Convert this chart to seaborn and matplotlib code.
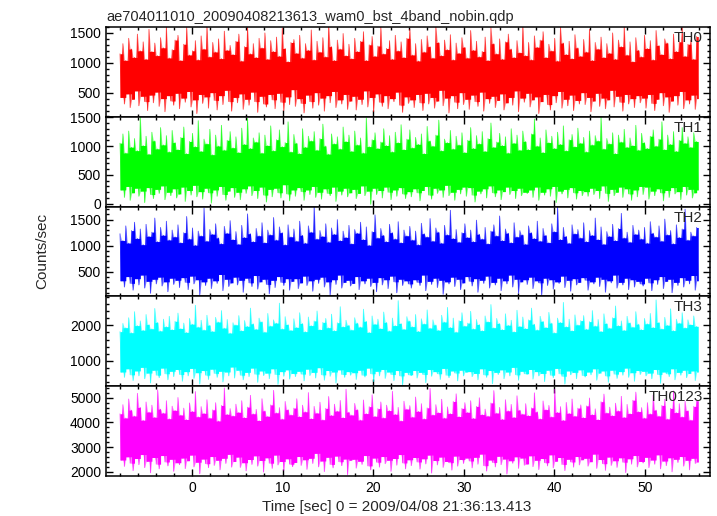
import numpy as np
import matplotlib
matplotlib.use("Agg")
import matplotlib.pyplot as plt
import matplotlib.ticker as mticker
import seaborn as sns

# light curve, drawn as per-bin min/max count rate (bin = 0.32 s)
t_start = -7.95
bin_sec = 0.32

th0_hi = [1150, 1320, 1040, 1410, 1230, 1090, 1480, 1200, 1350, 1060, 1560, 1190, 1330, 1120, 1420, 1250, 1610, 1080, 1220, 1380,
          1460, 1040, 1310, 1590, 1130, 1200, 1370, 1050, 1450, 1230, 1620, 1100, 1340, 1180, 1400, 1070, 1530, 1210, 1290, 1140,
          1360, 1480, 1030, 1270, 1600, 1150, 1320, 1090, 1410, 1250, 1500, 1060, 1370, 1190, 1430, 1110, 1580, 1240, 1020, 1340,
          1390, 1160, 1460, 1080, 1320, 1210, 1550, 1050, 1360, 1180, 1420, 1100, 1630, 1270, 1040, 1380, 1230, 1490, 1120, 1310,
          1070, 1410, 1190, 1360, 1520, 1040, 1300, 1440, 1110, 1280, 1600, 1150, 1240, 1370, 1060, 1460, 1200, 1350, 1090, 1410,
          1560, 1130, 1320, 1030, 1390, 1180, 1450, 1270, 1080, 1610, 1340, 1120, 1380, 1220, 1470, 1050, 1330, 1160, 1420, 1260,
          1080, 1540, 1210, 1360, 1100, 1190, 1430, 1040, 1590, 1320, 1150, 1400, 1060, 1350, 1480, 1230, 1090, 1370, 1170, 1620,
          1120, 1340, 1050, 1450, 1260, 1380, 1520, 1090, 1310, 1200, 1410, 1030, 1600, 1330, 1140, 1360, 1070, 1470, 1250, 1110,
          1390, 1180, 1560, 1040, 1340, 1230, 1430, 1090, 1320, 1160, 1500, 1060, 1380, 1270, 1610, 1130, 1350, 1020, 1420, 1210,
          1100, 1460, 1240, 1370, 1050, 1540, 1290, 1140, 1400, 1330, 1070, 1480, 1190, 1350, 1590, 1110, 1310, 1380, 1060, 1440]
th0_lo = [420, 310, 480, 250, 390, 530, 280, 440, 350, 200, 460, 330, 510, 270, 400, 180, 450, 360, 290, 490,
          230, 410, 340, 520, 260, 380, 150, 470, 320, 430, 240, 500, 370, 210, 450, 300, 540, 350, 190, 420,
          330, 480, 220, 390, 290, 510, 350, 170, 440, 310, 260, 470, 380, 230, 490, 340, 200, 430, 300, 550,
          270, 400, 320, 160, 460, 350, 240, 500, 290, 410, 190, 450, 330, 520, 250, 380, 310, 470, 220, 360,
          440, 210, 390, 300, 530, 260, 420, 180, 480, 340, 270, 450, 230, 400, 350, 510, 290, 170, 430, 320,
          380, 250, 470, 330, 200, 490, 310, 420, 240, 360, 540, 280, 410, 160, 450, 340, 230, 500, 300, 390,
          220, 460, 350, 270, 510, 190, 400, 320, 440, 250, 370, 480, 210, 330, 420, 290, 530, 180, 410, 340,
          490, 260, 380, 430, 150, 350, 470, 300, 210, 450, 330, 520, 240, 390, 280, 460, 200, 370, 310, 500,
          300, 420, 180, 360, 490, 270, 410, 230, 380, 540, 260, 440, 340, 190, 470, 310, 400, 250, 450, 330,
          410, 240, 470, 320, 200, 390, 500, 280, 430, 170, 360, 450, 290, 520, 230, 380, 310, 460, 220, 400]

th1_hi = [1050, 1210, 880, 1260, 980, 1130, 920, 1500, 1010, 1170, 860, 1240, 1090, 950, 1320, 1020, 1180, 900, 1270, 1060,
          940, 1150, 1330, 870, 1080, 1220, 990, 1440, 910, 1120, 1040, 1290, 850, 1190, 1000, 1360, 930, 1100, 1250, 970,
          1160, 890, 1310, 1030, 1480, 960, 1140, 1070, 1230, 880, 1190, 1010, 1350, 920, 1110, 1280, 990, 1060, 1420, 900,
          1200, 1050, 870, 1300, 980, 1170, 1090, 1250, 930, 1130, 1380, 1000, 860, 1210, 1040, 1160, 950, 1330, 1080, 1190,
          910, 1260, 1020, 1140, 880, 1490, 990, 1110, 1230, 960, 1070, 1300, 1010, 1180, 900, 1240, 1060, 1370, 940, 1120,
          1280, 970, 1150, 1030, 1210, 870, 1340, 1090, 1000, 1190, 1450, 920, 1120, 1060, 1270, 950, 1170, 1020, 1230, 890,
          1100, 1320, 960, 1180, 1040, 1250, 910, 1130, 1400, 980, 1070, 1220, 1010, 1160, 880, 1300, 1050, 1190, 930, 1260,
          1080, 940, 1210, 1470, 1000, 1140, 890, 1280, 1060, 1170, 960, 1240, 1030, 1350, 920, 1110, 1200, 990, 1310, 1050,
          1150, 900, 1260, 1020, 1180, 1090, 1500, 950, 1130, 1040, 1230, 870, 1190, 1070, 1290, 980, 1140, 1010, 1360, 930,
          1220, 1060, 960, 1170, 1280, 1000, 1120, 1420, 940, 1190, 1030, 1250, 910, 1100, 1320, 1050, 1160, 980, 1230, 1080]
th1_lo = [240, 110, 300, 60, 190, 270, 130, 220, 20, 280, 160, 90, 250, 180, 310, 70, 200, 140, 260, 100,
          170, 290, 40, 230, 150, 320, 120, 210, 80, 270, 190, 10, 240, 130, 300, 160, 60, 220, 280, 110,
          200, 70, 260, 180, 310, 140, 230, 90, 290, 150, 30, 250, 120, 270, 190, 100, 330, 170, 50, 240,
          130, 280, 210, 60, 240, 160, 300, 110, 200, 80, 260, 180, 140, 290, 40, 220, 150, 270, 120, 190,
          250, 90, 180, 310, 140, 220, -10, 270, 160, 230, 100, 290, 200, 70, 240, 130, 280, 170, 90, 210,
          120, 260, 190, 50, 230, 300, 150, 80, 270, 180, 240, 110, 320, 140, 200, 60, 250, 170, 290, 130,
          280, 150, 30, 220, 170, 260, 100, 310, 190, 120, 240, 70, 210, 290, 160, 230, 90, 270, 140, 200,
          180, 240, 110, 290, 60, 200, 150, 260, 130, 300, 20, 220, 170, 250, 100, 280, 190, 80, 230, 140,
          210, 130, 270, 160, 230, 90, 310, 180, 40, 250, 140, 200, 290, 110, 260, 170, 60, 240, 120, 300,
          160, 290, 80, 220, 140, 260, 190, 50, 230, 110, 280, 170, 210, 70, 300, 150, 250, 100, 190, 240]

th2_hi = [1230, 1100, 1380, 1050, 1290, 1450, 1140, 1320, 1020, 1410, 1180, 1260, 1530, 1080, 1350, 1200, 1470, 1110, 1300, 1170,
          1400, 1060, 1250, 1560, 1130, 1340, 1010, 1280, 1190, 1720, 1090, 1310, 1220, 1420, 1150, 1040, 1370, 1240, 1480, 1120,
          1270, 1030, 1390, 1160, 1610, 1230, 1080, 1330, 1190, 1440, 1060, 1300, 1210, 1540, 1110, 1360, 1250, 1020, 1400, 1170,
          1320, 1090, 1470, 1200, 1050, 1380, 1260, 1760, 1130, 1290, 1180, 1420, 1070, 1340, 1220, 1500, 1100, 1280, 1160, 1390,
          1040, 1310, 1240, 1450, 1120, 1360, 1010, 1270, 1590, 1150, 1330, 1200, 1080, 1410, 1250, 1130, 1460, 1060, 1300, 1190,
          1370, 1110, 1280, 1020, 1430, 1230, 1170, 1520, 1090, 1340, 1260, 1050, 1390, 1210, 1680, 1140, 1310, 1070, 1250, 1420,
          1160, 1300, 1080, 1490, 1220, 1130, 1350, 1040, 1280, 1400, 1190, 1570, 1100, 1320, 1240, 1060, 1440, 1170, 1290, 1210,
          1030, 1380, 1250, 1140, 1470, 1090, 1330, 1200, 1060, 1420, 1270, 1740, 1120, 1350, 1180, 1050, 1400, 1230, 1310, 1150,
          1440, 1080, 1290, 1200, 1530, 1120, 1360, 1030, 1270, 1180, 1410, 1100, 1330, 1620, 1150, 1260, 1070, 1390, 1220, 1300,
          1130, 1350, 1050, 1460, 1240, 1170, 1380, 1090, 1510, 1210, 1290, 1040, 1400, 1160, 1320, 1700, 1110, 1260, 1190, 1350]
th2_lo = [330, 210, 410, 280, 150, 370, 250, 440, 190, 320, 90, 360, 270, 400, 230, 310, 120, 380, 260, 340,
          200, 390, 300, 160, 420, 270, 350, 60, 310, 240, 380, 180, 330, 280, 450, 140, 360, 220, 290, 400,
          250, 340, 110, 380, 290, 220, 430, 170, 310, 360, 260, 80, 340, 200, 410, 300, 240, 370, 150, 320,
          370, 180, 290, 420, 240, 330, 130, 360, 280, 400, 210, 310, 50, 350, 260, 440, 190, 300, 340, 230,
          280, 410, 160, 330, 270, 380, 220, 300, 120, 390, 250, 350, 180, 420, 310, 100, 360, 240, 330, 270,
          190, 350, 300, 240, 440, 140, 320, 260, 380, 200, 340, 70, 310, 270, 400, 220, 360, 160, 290, 410,
          320, 230, 370, 110, 340, 280, 420, 190, 300, 250, 380, 140, 330, 270, 440, 210, 360, 90, 310, 350,
          260, 400, 180, 330, 290, 60, 380, 240, 350, 170, 310, 280, 420, 200, 340, 130, 370, 250, 300, 390,
          340, 150, 310, 270, 400, 220, 360, 110, 330, 290, 440, 190, 300, 250, 380, 160, 350, 210, 320, 270,
          230, 380, 290, 140, 350, 260, 410, 180, 320, 360, 100, 300, 240, 390, 210, 340, 270, 430, 150, 330]

th3_hi = [1820, 2050, 1930, 2210, 1790, 2380, 1990, 2120, 1860, 2300, 2020, 1900, 2470, 2080, 1840, 2170, 1960, 2250, 1880, 2110,
          2340, 1910, 2060, 1800, 2190, 2030, 2560, 1950, 2140, 1870, 2280, 2000, 1830, 2220, 2090, 2410, 1920, 2160, 1780, 2070,
          2010, 2270, 1850, 2130, 1970, 2480, 2040, 1890, 2200, 2100, 1810, 2330, 1980, 2150, 2060, 2620, 1900, 2240, 2020, 1860,
          2180, 1940, 2350, 2050, 1820, 2230, 1990, 2120, 2400, 1880, 2080, 2190, 1930, 2310, 1850, 2070, 2520, 1960, 2140, 2000,
          1870, 2210, 2060, 1950, 2450, 2110, 1800, 2260, 2030, 2170, 1910, 2370, 2080, 1840, 2200, 1990, 2690, 2050, 1890, 2240,
          2120, 1960, 2300, 1830, 2180, 2040, 2430, 1920, 2150, 2010, 1860, 2280, 2090, 2500, 1940, 2200, 1810, 2130, 2350, 1980,
          2060, 2390, 1900, 2160, 2020, 1850, 2260, 2100, 2580, 1930, 2190, 2050, 1880, 2320, 2000, 2140, 1820, 2420, 1970, 2230,
          1910, 2150, 2480, 2030, 1870, 2250, 2110, 1940, 2360, 2060, 1790, 2200, 2080, 2640, 1960, 2170, 1850, 2290, 2010, 2130,
          2270, 1890, 2100, 2410, 1980, 2160, 1830, 2320, 2050, 1920, 2210, 2540, 1990, 2120, 1860, 2250, 2070, 1950, 2380, 2030,
          1880, 2190, 2040, 2330, 1940, 2710, 2080, 1900, 2220, 2000, 2460, 1850, 2170, 2060, 2350, 1930, 2150, 2020, 2260, 1970]
th3_lo = [690, 540, 780, 610, 450, 720, 580, 820, 500, 660, 380, 740, 600, 530, 800, 640, 470, 710, 560, 760,
          620, 430, 700, 580, 790, 510, 670, 350, 730, 600, 480, 770, 650, 540, 710, 410, 690, 580, 830, 520,
          740, 600, 470, 680, 560, 800, 630, 400, 720, 590, 660, 500, 780, 620, 340, 700, 570, 750, 490, 650,
          560, 710, 630, 440, 770, 590, 680, 520, 810, 610, 460, 730, 570, 690, 380, 750, 620, 540, 700, 600,
          670, 480, 740, 600, 550, 800, 640, 420, 710, 580, 760, 510, 690, 620, 450, 730, 580, 330, 680, 610,
          590, 730, 520, 680, 620, 390, 760, 570, 700, 640, 480, 790, 600, 530, 720, 660, 440, 740, 580, 690,
          700, 560, 650, 470, 780, 610, 540, 730, 360, 680, 620, 750, 500, 690, 580, 820, 610, 460, 710, 640,
          630, 760, 490, 700, 580, 650, 420, 740, 600, 530, 790, 640, 570, 350, 720, 610, 680, 500, 750, 590,
          550, 690, 610, 780, 460, 660, 720, 580, 400, 740, 630, 510, 700, 600, 800, 540, 670, 430, 730, 620,
          710, 580, 660, 500, 760, 620, 370, 690, 640, 560, 780, 470, 680, 600, 740, 530, 650, 720, 450, 690]

th0123_hi = [4350, 4720, 4180, 4950, 4500, 4260, 5180, 4610, 4090, 4830, 4420, 4700, 4210, 5320, 4540, 4380, 4880, 4150, 4660, 4490,
             5010, 4300, 4580, 4120, 4790, 4450, 5250, 4230, 4640, 4370, 4920, 4180, 4510, 4800, 4060, 4690, 5400, 4330, 4560, 4270,
             4740, 4410, 4880, 4200, 4620, 5100, 4350, 4530, 4080, 4960, 4470, 4250, 4710, 5300, 4390, 4600, 4140, 4850, 4520, 4310,
             4580, 4960, 4240, 4700, 4430, 5210, 4160, 4650, 4380, 4820, 4110, 4570, 5050, 4290, 4740, 4460, 4890, 4200, 5350, 4420,
             4300, 4770, 4520, 4100, 4910, 4360, 4640, 5120, 4250, 4560, 4830, 4190, 4700, 4480, 5260, 4330, 4610, 4070, 4860, 4540,
             4680, 4220, 5030, 4450, 4760, 4150, 4590, 5380, 4310, 4720, 4400, 4940, 4180, 4630, 4360, 4850, 5160, 4240, 4570, 4800,
             4410, 4880, 4170, 4650, 5000, 4320, 4540, 4260, 4790, 5290, 4380, 4610, 4130, 4920, 4470, 4730, 4210, 5080, 4500, 4340,
             4760, 4280, 4590, 5200, 4430, 4150, 4870, 4520, 4690, 4230, 5340, 4410, 4640, 4090, 4810, 4370, 4950, 4260, 4580, 4710,
             4200, 4670, 4990, 4320, 4550, 4120, 4840, 5150, 4390, 4620, 4280, 4780, 4470, 5060, 4210, 4730, 4360, 4900, 5230, 4440,
             4600, 4180, 4800, 4350, 5110, 4500, 4260, 4690, 4940, 4140, 4570, 5280, 4400, 4760, 4230, 4860, 4480, 4100, 4650, 4880]
th0123_lo = [2480, 2220, 2610, 2350, 2050, 2540, 2290, 2700, 2170, 2430, 1960, 2580, 2310, 2120, 2660, 2400, 2240, 2510, 2020, 2370,
             2290, 2560, 2130, 2450, 2680, 2200, 2390, 1920, 2520, 2330, 2170, 2620, 2260, 2470, 2080, 2550, 2340, 2710, 2190, 2420,
             2600, 2180, 2370, 2040, 2500, 2300, 2650, 2230, 2460, 1990, 2570, 2350, 2140, 2680, 2280, 2420, 2060, 2530, 2310, 2210,
             2380, 2620, 2260, 2490, 2100, 2550, 2340, 2750, 2200, 2440, 2010, 2590, 2300, 2160, 2640, 2410, 2250, 2520, 1880, 2470,
             2510, 2150, 2430, 2300, 2660, 2240, 2080, 2560, 2390, 2190, 2620, 2330, 2470, 2020, 2540, 2270, 2700, 2360, 2120, 2490,
             2250, 2580, 2400, 2110, 2530, 2320, 2680, 1950, 2460, 2280, 2600, 2180, 2420, 2370, 2070, 2640, 2230, 2500, 2340, 2560,
             2440, 2160, 2590, 2310, 2720, 2250, 2030, 2480, 2380, 2200, 2630, 2290, 2520, 1910, 2450, 2350, 2610, 2140, 2560, 2270,
             2320, 2650, 2210, 2470, 2090, 2540, 2370, 2240, 2690, 2160, 2430, 2580, 2300, 2050, 2510, 2400, 2190, 2620, 2280, 2490,
             2550, 2230, 2410, 2720, 2140, 2500, 2330, 2060, 2600, 2260, 2450, 2180, 2570, 2390, 1970, 2530, 2310, 2660, 2200, 2420,
             2360, 2590, 2170, 2480, 2310, 2690, 2120, 2440, 2250, 2570, 2000, 2510, 2380, 2620, 2230, 2470, 2080, 2550, 2340, 2400]

bands = ["TH0", "TH1", "TH2", "TH3", "TH0123"]
highs = [th0_hi, th1_hi, th2_hi, th3_hi, th0123_hi]
lows = [th0_lo, th1_lo, th2_lo, th3_lo, th0123_lo]
colors = ["#ff0000", "#00ff00", "#0000ff", "#00ffff", "#ff00ff"]
ylims = [(95, 1600), (-50, 1508), (30, 1750), (290, 2810), (1830, 5470)]
major = [500, 500, 500, 1000, 1000]
minor = [100, 100, 100, 200, 200]

title = "ae704011010_20090408213613_wam0_bst_4band_nobin.qdp"
xlabel = "Time [sec] 0 = 2009/04/08 21:36:13.413"
ylabel = "Counts/sec"

sns.set_theme(style="ticks")
plt.rcParams['font.family'] = ['Liberation Sans', 'DejaVu Sans']
plt.rcParams.update({
    'xtick.direction': 'in', 'ytick.direction': 'in',
    'xtick.top': True, 'ytick.right': True,
    'xtick.major.size': 5, 'ytick.major.size': 5,
    'xtick.minor.size': 2.5, 'ytick.minor.size': 2.5,
    'xtick.color': 'black', 'ytick.color': 'black',
    'axes.edgecolor': 'black', 'axes.linewidth': 1.1,
    'xtick.labelsize': 10, 'ytick.labelsize': 10,
})

fig = plt.figure(figsize=(7.17, 5.16), dpi=100)
axes = fig.subplots(5, 1, sharex=True, gridspec_kw={'hspace': 0})
fig.subplots_adjust(left=0.1478, right=0.9902, top=0.9477, bottom=0.0775)

for ax, name, hi, lo, c, yl, mj, mn in zip(axes, bands, highs, lows, colors, ylims, major, minor):
    hi = np.array(hi, dtype=float)
    lo = np.array(lo, dtype=float)
    n = len(hi)
    t = t_start + bin_sec * np.arange(n)
    hi_next = np.append(hi[1:], hi[-1])
    lo_prev = np.insert(lo[:-1], 0, lo[0])

    # zigzag through the extremes of every bin
    xz = np.empty(2 * n)
    xz[0::2] = t
    xz[1::2] = t + bin_sec / 2
    yz = np.empty(2 * n)
    yz[0::2] = hi
    yz[1::2] = lo

    # band between neighbouring extremes (outer, lighter part)
    upper = np.empty(2 * n)
    upper[0::2] = hi
    upper[1::2] = np.minimum(hi, hi_next)
    lower = np.empty(2 * n)
    lower[1::2] = lo
    lower[0::2] = np.maximum(lo, lo_prev)

    # dense core where consecutive bins overlap
    core_hi = np.repeat(np.minimum(hi, hi_next), 2)
    core_lo = np.repeat(np.maximum(lo, lo_prev), 2)

    ax.fill_between(xz, lower, upper, color=c, lw=0, alpha=0.5)
    sns.lineplot(x=xz, y=yz, ax=ax, color=c, lw=0.6, alpha=0.75, sort=False, estimator=None)
    ax.fill_between(xz, core_lo, core_hi, color=c, lw=0, step='post')

    ax.set_ylim(*yl)
    ax.yaxis.set_major_locator(mticker.MultipleLocator(mj))
    ax.yaxis.set_minor_locator(mticker.MultipleLocator(mn))
    ax.xaxis.set_major_locator(mticker.MultipleLocator(10))
    ax.xaxis.set_minor_locator(mticker.MultipleLocator(2))
    ax.tick_params(which='both', top=True, right=True, direction='in', width=1)
    ax.set_ylabel("")
    ax.text(0.988, 0.955, name, transform=ax.transAxes, ha='right', va='top', fontsize=11)

axes[-1].set_xlim(-9.5, 57.2)
axes[0].set_title(title, loc='left', fontsize=10.5, pad=4)
fig.text(397 / 717, 1 - 507 / 516, xlabel, ha='center', va='center', fontsize=11)
fig.text(42 / 717, 1 - 251 / 516, ylabel, rotation=90, ha='center', va='center', fontsize=11)

plt.savefig("out.png", dpi=100)
